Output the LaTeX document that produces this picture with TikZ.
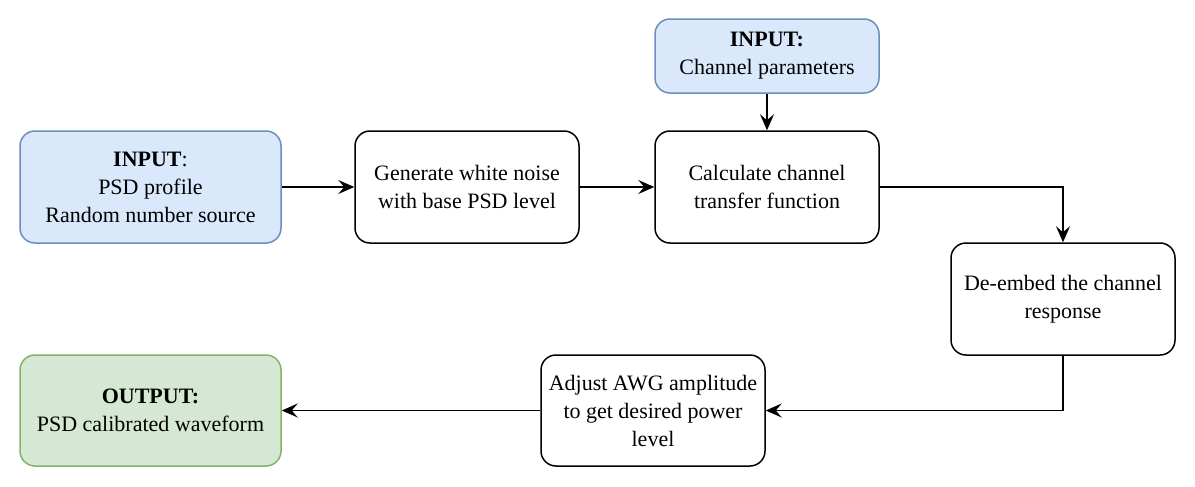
\documentclass[tikz,border=0pt]{standalone}
\usepackage{fontspec}
\setmainfont{LiberationSerif}[Extension=.ttf, UprightFont=*-Regular, BoldFont=*-Bold, ItalicFont=*-Italic, BoldItalicFont=*-BoldItalic]
\usepackage{tikz}
\usetikzlibrary{shapes,arrows.meta,positioning}
\definecolor{infill}{HTML}{DAE8FC}
\definecolor{inline}{HTML}{6C8EBF}
\definecolor{outfill}{HTML}{D5E8D4}
\definecolor{outline}{HTML}{82B366}

\begin{document}
\begin{tikzpicture}[x=0.5pt, y=-0.5pt,
    every node/.style={font=\fontsize{11}{14}\selectfont, align=center},
    block/.style={rectangle, rounded corners=7.5pt, draw=black, line width=0.75pt, fill=white, minimum width=112pt, minimum height=56pt, inner sep=2pt},
    inblock/.style={block, draw=inline, fill=infill},
    outblock/.style={block, draw=outline, fill=outfill},
    flow/.style={-{Stealth[length=8pt, width=7pt, inset=3pt]}, line width=0.75pt}]
        \useasboundingbox (0,0) rectangle (1195,487);

        % Input nodes
        \node[inblock, minimum width=130.5pt] (psd) at (150.5,187) {\textbf{INPUT}:\\PSD profile\\Random number source};
        \node[inblock, minimum height=37pt] (chan) at (767,56) {\textbf{INPUT:}\\Channel parameters};

        % Processing steps
        \node[block] (gen) at (467,187) {Generate white noise\\with base PSD level};
        \node[block] (calc) at (767,187) {Calculate channel\\transfer function};
        \node[block] (deemb) at (1063,299) {De-embed the channel\\response};
        \node[block, minimum height=55.5pt] (adj) at (653,410.5) {Adjust AWG amplitude\\to get desired power\\level};

        % Output node
        \node[outblock, minimum width=130.5pt, minimum height=55.5pt] (out) at (150.5,410.5) {\textbf{OUTPUT:}\\PSD calibrated waveform};

        % Connections
        \draw[flow] (psd) -- (gen);
        \draw[flow] (gen) -- (calc);
        \draw[flow] (chan) -- (calc);
        \draw[flow] (calc.east) -| (deemb.north);
        \draw[flow] (deemb.south) |- (adj.east);
        \draw[flow] (adj) -- (out);
    \end{tikzpicture}
\end{document}
